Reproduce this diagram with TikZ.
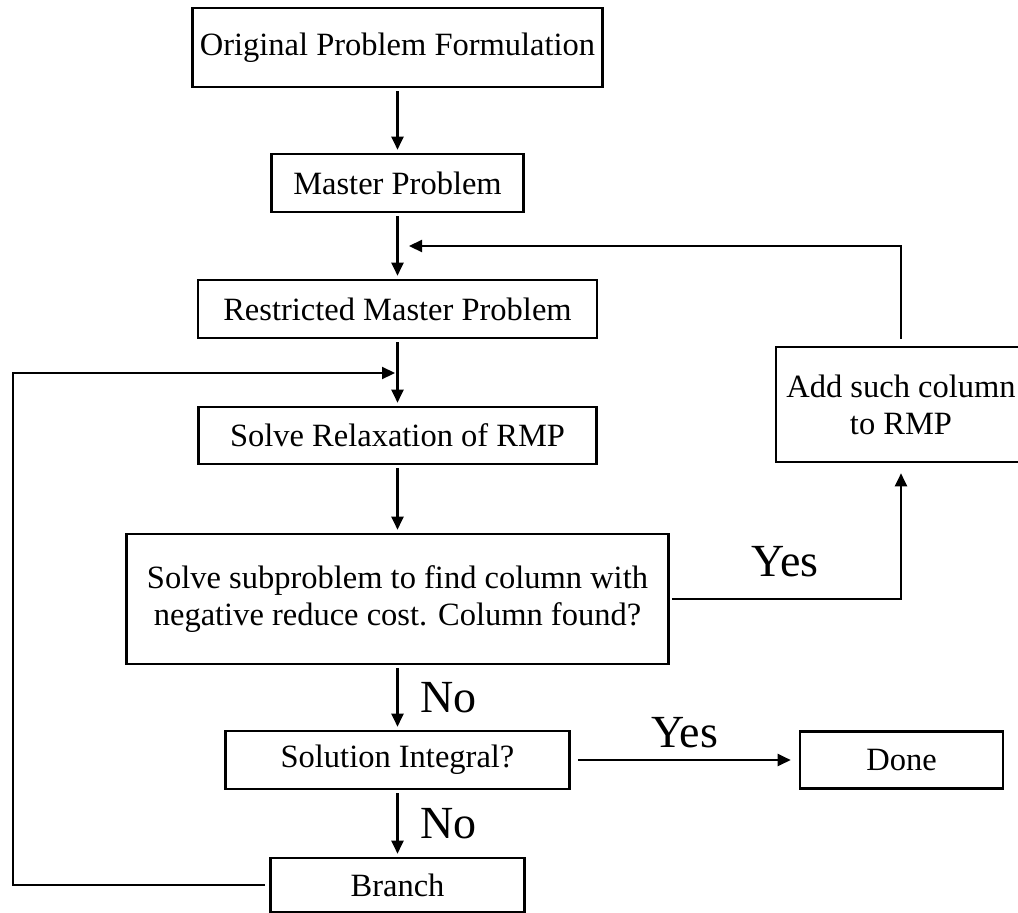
\documentclass[tikz,border=0pt]{standalone}
\usepackage{fontspec}
\setmainfont{Liberation Serif}
\usetikzlibrary{arrows.meta}

\begin{document}
\begin{tikzpicture}[every node/.style={font=\fontsize{32.5}{37}\selectfont},
  proc/.style={draw, line width=2.6pt, inner sep=0pt, align=center},
  flow/.style={line width=2.2pt, -{Triangle[length=13pt, width=12pt]}},
  ans/.style={font=\fontsize{46}{50}\selectfont, inner sep=0pt}]
\useasboundingbox (0pt, 0pt) rectangle (1018pt, -913pt);
\node (orig) [proc, minimum width=410pt, minimum height=79pt] at (397.5pt, -47.5pt) {Original Problem Formulation};
\node (master) [proc, minimum width=252pt, minimum height=58pt] at (397.5pt, -183pt) {Master Problem};
\node (rmp) [proc, minimum width=399pt, minimum height=58pt] at (397.5pt, -309pt) {Restricted Master Problem};
\node (relax) [proc, minimum width=398pt, minimum height=57pt] at (397.5pt, -435.5pt) {Solve Relaxation of RMP};
\node (sub) [proc, minimum width=542pt, minimum height=130pt] at (397.5pt, -599pt) {Solve subproblem to find column with\\negative reduce cost. Column found?};
\node (integ) [proc, minimum width=344pt, minimum height=58pt] at (397.5pt, -760pt) {Solution Integral?};
\node (branch) [proc, minimum width=254pt, minimum height=54pt] at (397.5pt, -885pt) {Branch};
\node (done) [proc, minimum width=203pt, minimum height=57pt] at (901.5pt, -760pt) {Done};
\node (add) [proc, minimum width=250pt, minimum height=115pt] at (901pt, -404.5pt) {Add such column\\to RMP};
\coordinate (back) at (409pt, -246pt);
\coordinate (edge) at (13pt, -373pt);
\coordinate (redo) at (395pt, -373pt);
% main column
\draw [flow, shorten <=3pt, shorten >=3pt] (orig) -- (master);
\draw [flow, shorten <=3pt, shorten >=3pt] (master) -- (rmp);
\draw [flow, shorten <=3pt, shorten >=3pt] (rmp) -- (relax);
\draw [flow, shorten <=3pt, shorten >=3pt] (relax) -- (sub);
\draw [flow, shorten <=3pt, shorten >=3pt] (sub) -- node [ans, right=22pt] {No} (integ);
\draw [flow, shorten <=3pt, shorten >=3pt] (integ) -- node [ans, right=22pt] {No} (branch);
\draw [flow, shorten <=7pt, shorten >=8pt] (integ) -- node [ans, above=11pt] {Yes} (done);
% new column goes back into the RMP
\draw [flow, shorten <=2pt, shorten >=10pt] (sub.east) -| node [ans, pos=0.25, above=21pt] {Yes} (add.south);
\draw [flow, shorten <=7pt] (add.north) |- (back);
% branching restarts the relaxation
\draw [flow, shorten <=4pt] (branch.west) -| (edge) -- (redo);
\end{tikzpicture}
\end{document}
